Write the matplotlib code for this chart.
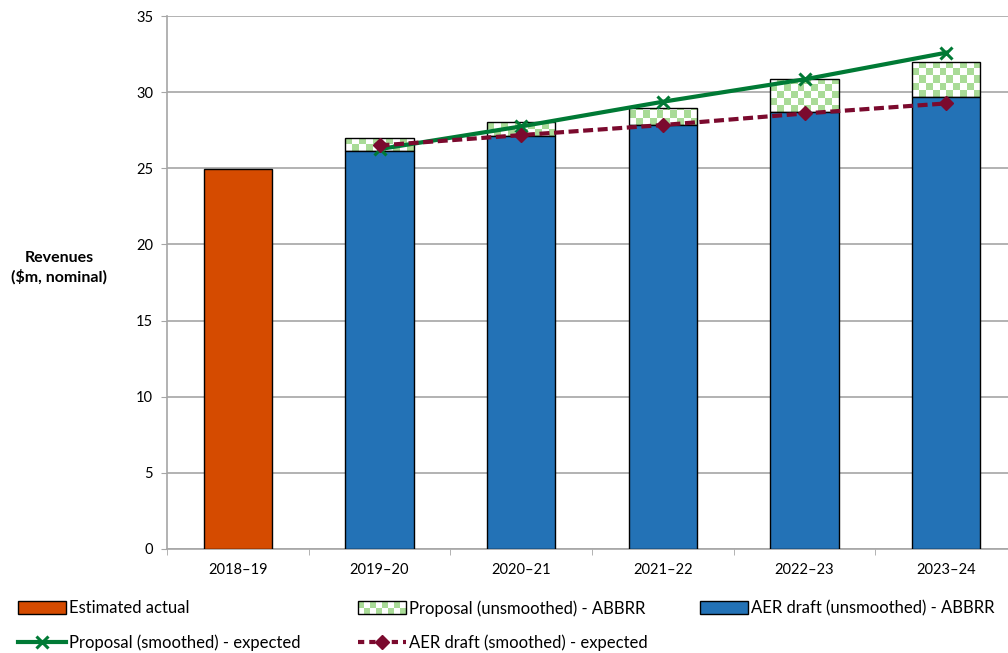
import matplotlib.pyplot as plt
import numpy as np
from matplotlib.patches import Rectangle
from matplotlib.lines import Line2D
from matplotlib.legend_handler import HandlerBase

plt.rcParams['font.family'] = ['Lato', 'DejaVu Sans']

years = ["2018\u201319", "2019\u201320", "2020\u201321", "2021\u201322", "2022\u201323", "2023\u201324"]
estimated_actual = [24.95, 0, 0, 0, 0, 0]
aer_unsmoothed = [0, 26.13, 27.12, 27.84, 28.70, 29.68]
proposal_unsmoothed = [0, 26.99, 28.04, 28.96, 30.86, 31.98]
proposal_smoothed = [26.26, 27.75, 29.37, 30.84, 32.59]
aer_smoothed = [26.50, 27.18, 27.84, 28.60, 29.26]

ORANGE = "#D54B00"
BLUE = "#2372B6"
CHECK = "#A9DB97"
GREEN = "#007A35"
MAROON = "#7B0A2E"
DASH = (0, (2.4, 1.1))

fig = plt.figure(figsize=(10.08, 6.53), dpi=100)
ax = fig.add_axes([167 / 1008, 1 - 549 / 653, (1017 - 167) / 1008, (549 - 16) / 653])

x = np.arange(len(years))
w = 0.484

# checkerboard fill for the proposal (unsmoothed) part above the AER bar
check = np.indices((80, 10)).sum(axis=0) % 2
cmap = plt.matplotlib.colors.ListedColormap(["white", CHECK])
cell_h = 0.46
for i in range(1, len(years)):
    lo, hi = aer_unsmoothed[i], proposal_unsmoothed[i]
    rect = Rectangle((x[i] - w / 2, lo), w, hi - lo, facecolor="none",
                     edgecolor="black", linewidth=1.0, zorder=3)
    ax.add_patch(rect)
    n = int(np.ceil((hi - lo) / cell_h)) + 1
    im = ax.imshow(check[:n], cmap=cmap, origin="lower", aspect="auto",
                   interpolation="nearest", zorder=2,
                   extent=(x[i] - w / 2, x[i] + w / 2, lo, lo + n * cell_h))
    im.set_clip_path(rect)

ax.bar(x, estimated_actual, w, color=ORANGE, edgecolor="black", linewidth=1.0, zorder=3)
ax.bar(x[1:], aer_unsmoothed[1:], w, color=BLUE, edgecolor="black", linewidth=1.0, zorder=3)

ax.plot(x[1:], proposal_smoothed, color=GREEN, lw=3, marker="x", ms=9, mew=2.2, zorder=5)
ax.plot(x[1:], aer_smoothed, color=MAROON, lw=3, ls=DASH, marker="D", ms=7, zorder=5)

ax.set_xlim(-0.5, len(years) - 0.5)
ax.set_ylim(0, 35)
ax.set_yticks(np.arange(0, 36, 5))
ax.set_xticks(x)
ax.set_xticklabels(years)
ax.set_xticks(np.arange(-0.5, len(years), 1), minor=True)
ax.tick_params(axis="x", which="major", length=0, pad=10, labelsize=10.5)
ax.tick_params(axis="x", which="minor", length=4, color="#a6a6a6")
ax.tick_params(axis="y", length=4, color="#a6a6a6", labelsize=10.5, pad=6)
ax.grid(axis="y", color="#a6a6a6", linewidth=1.2, zorder=0)
ax.set_axisbelow(True)
for s in ["top", "right"]:
    ax.spines[s].set_visible(False)
for s in ["left", "bottom"]:
    ax.spines[s].set_color("#a6a6a6")
    ax.spines[s].set_linewidth(1.2)

fig.text(59 / 1008, 1 - 268 / 653, "Revenues\n($m, nominal)", ha="center", va="center",
         fontsize=11.5, fontweight="bold", linespacing=1.3)


class CheckerHandler(HandlerBase):
    def create_artists(self, legend, orig_handle, xdescent, ydescent, width, height, fontsize, trans):
        arts = []
        nx, ny = 8, 2
        cw, ch = width / nx, height / ny
        for r in range(ny):
            for c in range(nx):
                if (r + c) % 2:
                    arts.append(Rectangle((-xdescent + c * cw, -ydescent + r * ch), cw, ch,
                                          facecolor=CHECK, edgecolor="none", transform=trans))
        arts.append(Rectangle((-xdescent, -ydescent), width, height, facecolor="none",
                              edgecolor="black", lw=1.0, transform=trans))
        return arts


h_est = Rectangle((0, 0), 1, 1, facecolor=ORANGE, edgecolor="black", lw=1.0)
h_prop = Rectangle((0, 0), 1, 1, facecolor="white", edgecolor="black", lw=1.0)
h_aer = Rectangle((0, 0), 1, 1, facecolor=BLUE, edgecolor="black", lw=1.0)
h_ps = Line2D([], [], color=GREEN, lw=3, marker="x", ms=9, mew=2.2)
h_as = Line2D([], [], color=MAROON, lw=3, ls=(0, (1.5, 1.2)), marker="D", ms=7)

# one legend per column so each column starts where it should
columns = [
    (18, [h_est, h_ps], ["Estimated actual", "Proposal (smoothed) - expected"]),
    (358, [h_prop, h_as], ["Proposal (unsmoothed) - ABBRR", "AER draft (smoothed) - expected"]),
    (700, [h_aer], ["AER draft (unsmoothed) - ABBRR"]),
]
for xpix, hs, ls in columns:
    fig.legend(hs, ls, loc="upper left", bbox_to_anchor=(xpix / 1008, 1 - 600 / 653),
               frameon=False, fontsize=12, handlelength=2.85, handleheight=0.85,
               handletextpad=0.2, labelspacing=1.1, borderpad=0, borderaxespad=0,
               handler_map={h_prop: CheckerHandler()})

fig.savefig("out.png", dpi=100)
